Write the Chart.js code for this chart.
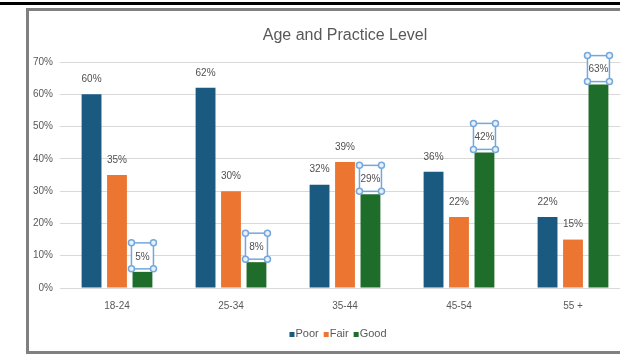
<!DOCTYPE html>
<html>
<head>
<meta charset="utf-8">
<script src="https://cdn.jsdelivr.net/npm/chart.js@4.4.1/dist/chart.umd.min.js"></script>
<style>
  html, body { margin: 0; padding: 0; background: #fff; }
  body { width: 620px; height: 356px; overflow: hidden; position: relative; }
  #topline { position: absolute; left: 0; top: 2px; width: 620px; height: 3px; background: #000; }
  #frame { position: absolute; left: 26px; top: 8px; width: 700px; height: 346px; border: 3px solid #808080; box-sizing: border-box; }
  #wrap { position: absolute; left: 0; top: 0; width: 640px; height: 356px; }
</style>
</head>
<body>
<div id="topline"></div>
<div id="frame"></div>
<div id="wrap"><canvas id="c" width="640" height="356"></canvas></div>
<script>
const categories = ['18-24', '25-34', '35-44', '45-54', '55 +'];
const poor = [60, 62, 32, 36, 22];
const fair = [35, 30, 39, 22, 15];
const good = [5, 8, 29, 42, 63];
const seriesNames = ['Poor', 'Fair', 'Good'];
const yTicks = [0, 10, 20, 30, 40, 50, 60, 70];
const chartTitle = 'Age and Practice Level';

const FONT = "'Liberation Sans', Arial, sans-serif";
const colors = ['#1a5a80', '#ec7532', '#1f6d2a'];

const titlePlugin = {
  id: 'centeredTitle',
  afterDraw(chart) {
    const ctx = chart.ctx, a = chart.chartArea;
    ctx.save();
    ctx.font = '16px ' + FONT;
    ctx.fillStyle = '#595959';
    ctx.textAlign = 'center';
    ctx.textBaseline = 'middle';
    ctx.fillText(chartTitle, (a.left + a.right) / 2, 36);
    ctx.restore();
  }
};

const labelPlugin = {
  id: 'labels',
  afterDatasetsDraw(chart) {
    const ctx = chart.ctx;
    ctx.save();
    ctx.font = '10px ' + FONT;
    ctx.textAlign = 'center';
    ctx.textBaseline = 'middle';
    chart.data.datasets.forEach((ds, di) => {
      const meta = chart.getDatasetMeta(di);
      meta.data.forEach((bar, i) => {
        const x = bar.x, y = bar.y;
        if (di === 2) {
          const w = 22, top = y - 29, bot = y - 3;
          ctx.strokeStyle = '#74a7dc';
          ctx.lineWidth = 1.5;
          ctx.fillStyle = '#ffffff';
          ctx.fillRect(x - w / 2, top, w, bot - top);
          ctx.strokeRect(x - w / 2, top, w, bot - top);
          [[x - w / 2, top], [x + w / 2, top], [x - w / 2, bot], [x + w / 2, bot]].forEach(p => {
            ctx.beginPath();
            ctx.arc(p[0], p[1], 3, 0, Math.PI * 2);
            ctx.fillStyle = '#e8f1fb';
            ctx.fill();
            ctx.stroke();
          });
        }
        ctx.fillStyle = '#505050';
        ctx.fillText(ds.data[i] + '%', x, y - 15);
      });
    });
    ctx.restore();
  }
};

const legendPlugin = {
  id: 'customLegend',
  afterDraw(chart) {
    const ctx = chart.ctx;
    ctx.save();
    ctx.font = '11px ' + FONT;
    ctx.textBaseline = 'middle';
    const box = 5, gap = 1, itemGap = 5;
    const items = chart.data.datasets.map(d => ({ t: d.label, c: d.backgroundColor, w: box + gap + ctx.measureText(d.label).width }));
    const total = items.reduce((s, it) => s + it.w, 0) + itemGap * (items.length - 1);
    let x = 338 - total / 2;
    const y = 334;
    items.forEach(it => {
      ctx.fillStyle = it.c;
      ctx.fillRect(x, y - 2, box, box);
      ctx.fillStyle = '#595959';
      ctx.fillText(it.t, x + box + gap, y);
      x += it.w + itemGap;
    });
    ctx.restore();
  }
};

new Chart(document.getElementById('c'), {
  type: 'bar',
  data: {
    labels: categories,
    datasets: [
      { label: seriesNames[0], data: poor, backgroundColor: colors[0] },
      { label: seriesNames[1], data: fair, backgroundColor: colors[1] },
      { label: seriesNames[2], data: good, backgroundColor: colors[2] }
    ]
  },
  options: {
    responsive: false,
    animation: false,
    devicePixelRatio: 1,
    categoryPercentage: 0.67,
    barPercentage: 0.78,
    layout: { padding: { left: 0, right: 10, top: 62, bottom: 0 } },
    plugins: {
      legend: { display: false },
      tooltip: { enabled: false },
      title: { display: false }
    },
    scales: {
      x: {
        grid: { display: false, drawTicks: false },
        border: { display: false },
        ticks: { color: '#595959', font: { family: FONT, size: 10 }, padding: 12, maxRotation: 0 },
        afterFit(s) { s.height = 68; }
      },
      y: {
        min: 0, max: 70,
        afterBuildTicks(s) { s.ticks = yTicks.map(v => ({ value: v })); },
        grid: { color: '#d9d9d9', drawTicks: false, lineWidth: 1 },
        border: { display: false },
        ticks: { color: '#595959', font: { family: FONT, size: 10 }, padding: 7, callback: v => v + '%' },
        afterFit(s) { s.width = 60; }
      }
    }
  },
  plugins: [labelPlugin, legendPlugin, titlePlugin]
});
</script>
</body>
</html>
